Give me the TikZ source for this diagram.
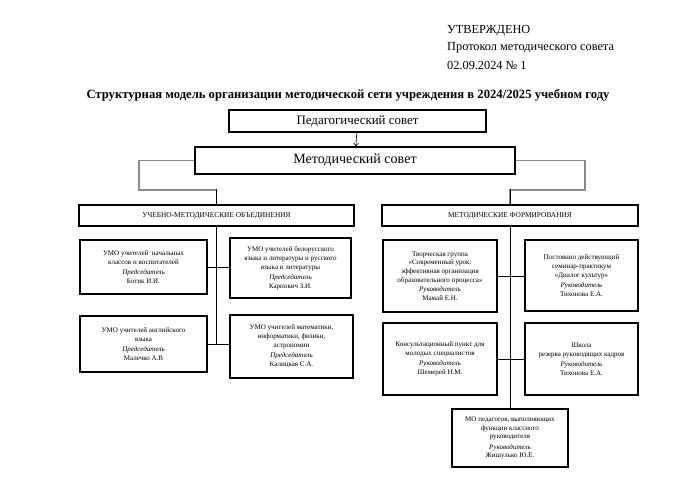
\documentclass[tikz,border=0pt]{standalone}
\usepackage{fontspec}
\setmainfont{Liberation Serif}
\usetikzlibrary{arrows.meta}
\tikzset{%
  sz/.style 2 args={minimum width={#1*0.03cm},minimum height={#2*0.03cm}},
  box/.style={draw,line width=1pt,inner sep=0pt,align=center,
    font=\fontsize{6}{7.6}\selectfont},
  headbox/.style={box,font=\fontsize{11}{13}\selectfont},
  catbox/.style={box,font=\fontsize{6.3}{7.5}\selectfont},
  link/.style={draw,line width=0.5pt},
  glink/.style={draw=black!45,line width=0.9pt},
  note/.style={anchor=west,inner sep=0pt,font=\fontsize{10.5}{12}\selectfont},
}
\newcommand{\Who}[1]{\textit{#1}}

\begin{document}
\begin{tikzpicture}[x=0.03cm,y=-0.03cm]
  \useasboundingbox (0,0) rectangle (700,492);
  % header
  \node[note] (ok)    at (447,31) {УТВЕРЖДЕНО};
  \node[note] (prot)  at (447,48) {Протокол методического совета};
  \node[note] (date)  at (447,65) {02.09.2024 № 1};
  \node[inner sep=0pt,font=\bfseries\fontsize{10.8}{12}\selectfont] (title) at (348,95)
    {Структурная модель организации методической сети учреждения в 2024/2025 учебном году};
  % councils
  \node[headbox,sz={257}{22}] (ped) at (357.5,121) {Педагогический совет};
  \node[headbox,sz={320}{27},font=\fontsize{12}{14}\selectfont] (met) at (355,160.5) {Методический совет};
  \draw[link,-{Straight Barb[length=2.5pt,width=4pt]}] (ped) -- (met);
  % two branches
  \node[catbox,sz={275}{21}] (umo) at (216.5,215.5) {УЧЕБНО-МЕТОДИЧЕСКИЕ ОБЪЕДИНЕНИЯ};
  \node[catbox,sz={256}{21}] (mf)  at (510,215.5)   {МЕТОДИЧЕСКИЕ ФОРМИРОВАНИЯ};
  \draw[glink] (met.west) -| (139,190) -| (umo.north);
  \draw[glink] (met.east) -| (585,190) -| (mf.north);
  \draw[link] (umo.north) -- ++(0,-15);
  \draw[link] (mf.north) -- ++(0,-15);
  % left column
  \node[box,sz={127}{54}] (umoA) at (143.5,267)
    {УМО учителей \ начальных\\классов и воспитателей\\[1pt]\Who{Председатель}\\Ботик И.И.};
  \node[box,sz={121}{60}] (umoB) at (290.5,268)
    {УМО учителей белорусского\\языка и литературы и русского\\языка и литературы\\[1pt]\Who{Председатель}\\Карпович З.И.};
  \node[box,sz={127}{56}] (umoC) at (143.5,344)
    {УМО учителей английского\\языка\\[1pt]\Who{Председатель}\\Малечко А.В};
  \node[box,sz={123}{63}] (umoD) at (291.5,346.5)
    {УМО учителей математики,\\информатики, физики,\\астрономии\\[1pt]\Who{Председатель}\\Калицкая С.А.};
  \coordinate (lend) at (umo.south |- umoC.east);
  \draw[link] (umo.south) -- (lend);
  \draw[link] (umoA.east) -- (umoA.east -| umoB.west);
  \draw[link] (umoC.east) -- (umoC.east -| umoD.west);
  % right column
  \node[box,sz={114}{72}] (mfA) at (440,276)
    {Творческая группа\\«Современный урок:\\эффективная организация\\образовательного процесса»\\\Who{Руководитель}\\Мамай Е.Н.};
  \node[box,sz={113}{71}] (mfB) at (581.5,275.5)
    {Постоянно действующий\\семинар-практикум\\«Диалог культур»\\[1pt]\Who{Руководитель}\\Тихонова Е.А.};
  \node[box,sz={114}{72}] (mfC) at (440,359)
    {Консультационный пункт для\\молодых специалистов\\[1pt]\Who{Руководитель}\\Шемерей Н.М.};
  \node[box,sz={113}{72}] (mfD) at (581.5,359)
    {Школа\\резерва руководящих кадров\\[1pt]\Who{Руководитель}\\Тихонова Е.А.};
  \node[box,sz={116}{58}] (mfE) at (510,438)
    {МО педагогов, выполняющих\\функции классного\\руководителя\\[1pt]\Who{Руководитель}\\Жишулько Ю.Е.};
  \draw[link] (mf.south) -- (mfE.north);
  \draw[link] (mfA.east) -- (mfA.east -| mfB.west);
  \draw[link] (mfC.east) -- (mfC.east -| mfD.west);
\end{tikzpicture}
\end{document}
